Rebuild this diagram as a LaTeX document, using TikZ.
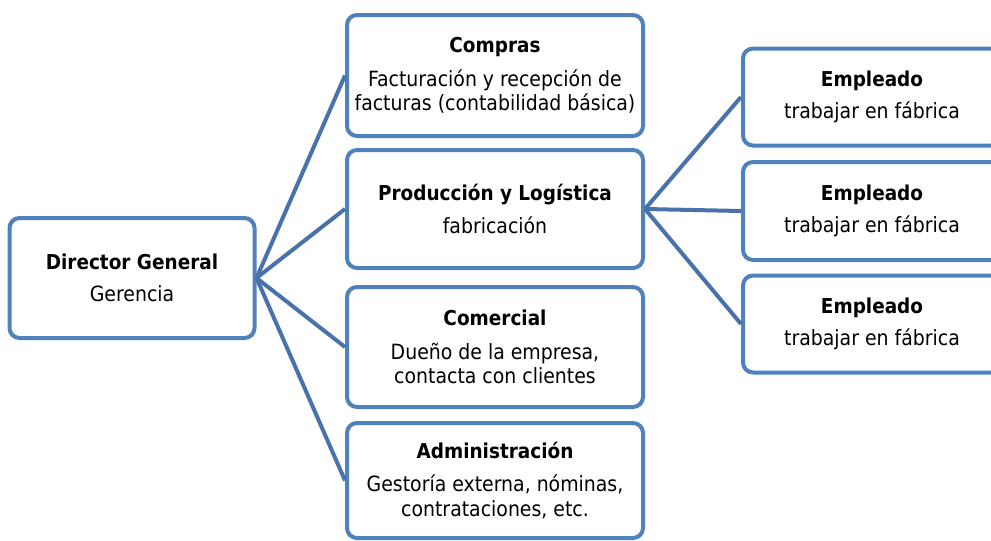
\documentclass[tikz,border=0pt]{standalone}
\usepackage{fontspec}
\setmainfont{DejaVu Sans Condensed}
\definecolor{boxblue}{RGB}{79,129,189}
\definecolor{lineblue}{RGB}{74,114,170}
\tikzset{
  orgbox/.style={draw=boxblue, line width=4pt, rounded corners=10pt, fill=white,
    align=center, font=\fontsize{21}{24.5}\selectfont, inner sep=0pt},
  ttl/.style={font=\fontsize{20.5}{24.5}\selectfont\bfseries},
  conn/.style={draw=lineblue, line width=4pt},
}
\newcommand{\boxtitle}[1]{{\fontsize{20.5}{24.5}\selectfont\bfseries #1}}
\begin{document}
\begin{tikzpicture}[x=1pt,y=-1pt]
\useasboundingbox (0,0) rectangle (991,541);
\begin{scope}
\clip (0,0) rectangle (991,541);
\node[orgbox, minimum width=245pt, minimum height=120pt] (dir) at (132,278)
  {\boxtitle{Director General}\\[8pt]Gerencia};
\node[orgbox, minimum width=296pt, minimum height=121pt] (compras) at (495,75.5)
  {\boxtitle{Compras}\\[9pt]Facturación y recepción de\\facturas (contabilidad básica)};
\node[orgbox, minimum width=296pt, minimum height=118pt] (prod) at (495,209)
  {\boxtitle{Producción y Logística}\\[8pt]fabricación};
\node[orgbox, minimum width=296pt, minimum height=120pt] (com) at (495,347)
  {\boxtitle{Comercial}\\[9pt]Dueño de la empresa,\\contacta con clientes};
\node[orgbox, minimum width=296pt, minimum height=115pt] (adm) at (495,480.5)
  {\boxtitle{Administración}\\[9pt]Gestoría externa, nóminas,\\contrataciones, etc.};
\node[orgbox, minimum width=258pt, minimum height=97pt] (e1) at (872,97)
  {\boxtitle{Empleado}\\[8pt]trabajar en fábrica};
\node[orgbox, minimum width=258pt, minimum height=98pt] (e2) at (872,211)
  {\boxtitle{Empleado}\\[8pt]trabajar en fábrica};
\node[orgbox, minimum width=258pt, minimum height=97pt] (e3) at (872,324)
  {\boxtitle{Empleado}\\[8pt]trabajar en fábrica};
\draw[conn] (dir.east) -- (compras.west);
\draw[conn] (dir.east) -- (prod.west);
\draw[conn] (dir.east) -- (com.west);
\draw[conn] (dir.east) -- (adm.west);
\draw[conn] (prod.east) -- (e1.west);
\draw[conn] (prod.east) -- (e2.west);
\draw[conn] (prod.east) -- (e3.west);
\end{scope}
\end{tikzpicture}
\end{document}
